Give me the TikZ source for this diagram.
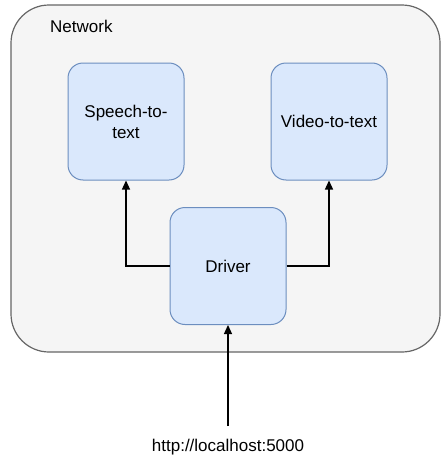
\documentclass[tikz,border=0pt]{standalone}
\usepackage{fontspec}
\setmainfont{Liberation Sans}
\usetikzlibrary{arrows.meta}
\definecolor{contfill}{HTML}{F5F5F5}
\definecolor{contdraw}{HTML}{666666}
\definecolor{boxfill}{HTML}{DAE8FC}
\definecolor{boxdraw}{HTML}{6C8EBF}
\begin{document}
\begin{tikzpicture}[x=1pt,y=-1pt,
  font=\fontsize{17}{21}\selectfont,
  container/.style={draw=contdraw, fill=contfill, line width=1.2pt, rounded corners=38pt},
  svcbox/.style={draw=boxdraw, fill=boxfill, line width=1pt, rounded corners=15pt,
    minimum width=116pt, minimum height=117pt, align=center, inner sep=0pt, text width=100pt},
  conn/.style={draw=black, line width=1.3pt, -{Triangle[length=9pt,width=8pt]}}]
\useasboundingbox (0,0) rectangle (441,455);
\draw[container] (11,5) rectangle (440,352);
\node[anchor=west, inner sep=0pt] (net) at (50,26) {Network};
\node[svcbox] (speech) at (126,121.5) {Speech-to-\\text};
\node[svcbox] (video) at (329,121.5) {Video-to-text};
\node[svcbox] (driver) at (228,266) {Driver};
\coordinate (src) at (228,426);
\node[inner sep=0pt] (url) at (228,447) {http://localhost:5000};
\draw[conn] (driver.west) -| (speech.south);
\draw[conn] (driver.east) -| (video.south);
\draw[conn] (src) -- (driver.south);
\end{tikzpicture}
\end{document}
